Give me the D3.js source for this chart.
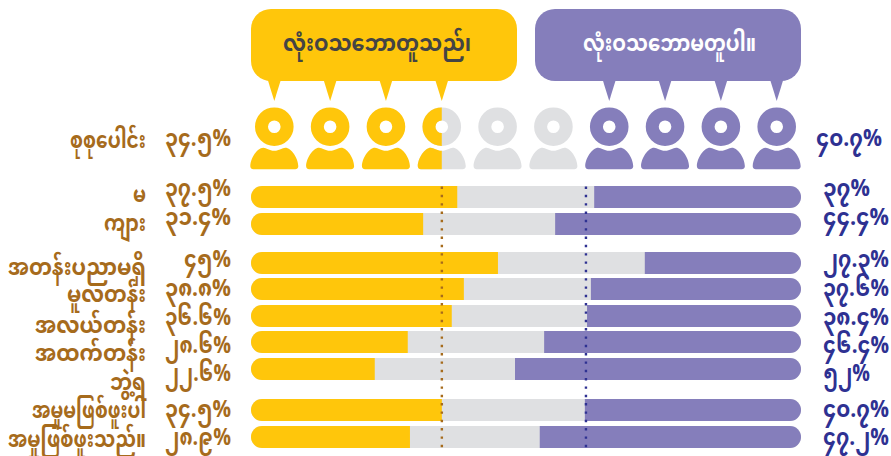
<!DOCTYPE html>
<html>
<head>
<meta charset="utf-8">
<script src="https://cdnjs.cloudflare.com/ajax/libs/d3/7.8.5/d3.min.js"></script>
<style>
html, body { margin: 0; padding: 0; background: #fff; }
text { font-family: "Noto Sans Myanmar", "Padauk", "Myanmar Text", "Noto Sans", "DejaVu Sans", sans-serif; font-weight: 700; }
</style>
</head>
<body>
<div id="chart"></div>
<script>
// values
const categories = ["မ", "ကျား", "အတန်းပညာမရှိ", "မူလတန်း", "အလယ်တန်း", "အထက်တန်း", "ဘွဲ့ရ", "အမှုမဖြစ်ဖူးပါ", "အမှုဖြစ်ဖူးသည်။"];
const yesShare = [37.5, 31.3, 44.9, 38.7, 36.5, 28.5, 22.5, 34.7, 28.9];
const noShare = [37.6, 44.7, 28.4, 38.2, 38.9, 46.7, 52, 39.3, 47.5];
const yesLabels = ["၃၇.၅%", "၃၁.၄%", "၄၅%", "၃၈.၈%", "၃၆.၆%", "၂၈.၆%", "၂၂.၆%", "၃၄.၅%", "၂၈.၉%"];
const noLabels = ["၃၇%", "၄၄.၄%", "၂၇.၃%", "၃၇.၆%", "၃၈.၄%", "၄၆.၄%", "၅၂%", "၄၀.၇%", "၄၇.၂%"];

const totalName = "စုစုပေါင်း";
const totalYes = 34.7;
const totalNo = 39.1;
const totalYesLabel = "၃၄.၅%";
const totalNoLabel = "၄၀.၇%";
const yesTitle = "လုံးဝသဘောတူသည်၊";
const noTitle = "လုံးဝသဘောမတူပါ။";
const people = d3.range(10);

const yellow = "#FFC60B", grey = "#DFE0E2", purple = "#857EBB";
const brown = "#A66B1C", navy = "#2E3192";

const width = 891, height = 456;
const svg = d3.select("#chart").append("svg")
    .attr("width", width)
    .attr("height", height)
    .style("display", "block");

const x = d3.scaleLinear().domain([0, 100]).range([251, 801]);
const iconX = d3.scalePoint().domain(people).range([274.3, 776.7]);

// row tops, the gaps mark the groups
const barY = d3.scaleOrdinal().domain(categories).range([186, 213, 252, 278, 305, 331, 358, 399, 426]);
const catY = d3.scaleOrdinal().domain(categories).range([202, 231, 275, 302, 333, 361, 390, 418, 447]);
const catW = d3.scaleOrdinal().domain(categories).range([13, 42, 138, 79, 111, 111, 36, 114, 138]);
const valY = d3.scaleOrdinal().domain(categories).range([196, 225, 267, 296, 325, 353, 381, 417, 445]);
const barH = 22;
const valW = s => s.length > 3 ? 66 : 47;

const defs = svg.append("defs");

// bars
categories.forEach(function (c, i) {
    const id = "bar" + i;
    defs.append("clipPath").attr("id", id).append("rect")
        .attr("x", x(0)).attr("y", barY(c))
        .attr("width", x(100) - x(0)).attr("height", barH)
        .attr("rx", barH / 2);
    const g = svg.append("g").attr("clip-path", "url(#" + id + ")");
    g.append("rect").attr("x", x(0)).attr("y", barY(c))
        .attr("width", x(100) - x(0)).attr("height", barH).attr("fill", grey);
    g.append("rect").attr("x", x(0)).attr("y", barY(c))
        .attr("width", x(yesShare[i]) - x(0)).attr("height", barH).attr("fill", yellow);
    g.append("rect").attr("x", x(100 - noShare[i])).attr("y", barY(c))
        .attr("width", x(100) - x(100 - noShare[i])).attr("height", barH).attr("fill", purple);
});

// dotted reference lines for the total
[[totalYes, brown], [100 - totalNo, navy]].forEach(function (d) {
    svg.append("line")
        .attr("x1", x(d[0])).attr("x2", x(d[0]))
        .attr("y1", 186.5).attr("y2", 448)
        .attr("stroke", d[1])
        .attr("stroke-width", 2.4)
        .attr("stroke-dasharray", "2.4 5.93");
});

// speech bubbles
const tail = d3.line();
function bubble(left, fill, members) {
    const g = svg.append("g").attr("fill", fill);
    g.append("rect").attr("x", left).attr("y", 9).attr("width", 266).attr("height", 72).attr("rx", 20);
    members.forEach(function (m) {
        const cx = iconX(m);
        g.append("path").attr("d", tail([[cx - 6.5, 80], [cx + 6.5, 80], [cx, 101]]) + "Z");
    });
}
bubble(251, yellow, [0, 1, 2, 3]);
bubble(535, purple, [6, 7, 8, 9]);

svg.append("text").attr("x", 283).attr("y", 51)
    .attr("textLength", 188).attr("lengthAdjust", "spacingAndGlyphs")
    .attr("font-size", 24).attr("fill", "#444").text(yesTitle);
svg.append("text").attr("x", 583).attr("y", 51)
    .attr("textLength", 173).attr("lengthAdjust", "spacingAndGlyphs")
    .attr("font-size", 24).attr("fill", "#fff").text(noTitle);

// people
const bodyPath = "M-24 17 C-24 9 -17 -1.6 -11 -1.6 C-8 -1.6 -5 1.5 0 1.5 C5 1.5 8 -1.6 11 -1.6 C17 -1.6 24 9 24 17 C24 19 22.5 20 21 20 L-21 20 C-22.5 20 -24 19 -24 17Z";
function person(g, cx, fill) {
    g.append("path")
        .attr("fill-rule", "evenodd")
        .attr("fill", fill)
        .attr("d", d3.arc()({ innerRadius: 6.3, outerRadius: 19.3, startAngle: 0, endAngle: 2 * Math.PI }))
        .attr("transform", "translate(" + cx + ",126.7)");
    g.append("path").attr("fill", fill).attr("d", bodyPath)
        .attr("transform", "translate(" + cx + ",149.3)");
}
const iconColor = d3.scaleThreshold().domain([3.5, 5.5]).range([yellow, grey, purple]);
people.forEach(function (p) {
    person(svg, iconX(p), p === 3 ? grey : iconColor(p));
});
defs.append("clipPath").attr("id", "halfIcon").append("rect")
    .attr("x", iconX(3) - 30).attr("y", 100).attr("width", 30).attr("height", 75);
person(svg.append("g").attr("clip-path", "url(#halfIcon)"), iconX(3), yellow);

// row labels
svg.selectAll(".cat").data(categories).join("text")
    .attr("class", "cat")
    .attr("x", d => 146 - catW(d)).attr("y", d => catY(d))
    .attr("textLength", d => catW(d)).attr("lengthAdjust", "spacingAndGlyphs")
    .attr("font-size", 23).attr("fill", brown).text(d => d);
svg.selectAll(".yes").data(yesLabels).join("text")
    .attr("class", "yes")
    .attr("x", d => 231 - valW(d)).attr("y", (d, i) => valY(categories[i]))
    .attr("textLength", d => valW(d)).attr("lengthAdjust", "spacingAndGlyphs")
    .attr("font-size", 24).attr("fill", brown).text(d => d);
svg.selectAll(".no").data(noLabels).join("text")
    .attr("class", "no")
    .attr("x", 823).attr("y", (d, i) => valY(categories[i]))
    .attr("textLength", d => valW(d)).attr("lengthAdjust", "spacingAndGlyphs")
    .attr("font-size", 24).attr("fill", navy).text(d => d);

// total row
svg.append("text").attr("x", 70).attr("y", 148)
    .attr("textLength", 76).attr("lengthAdjust", "spacingAndGlyphs")
    .attr("font-size", 23).attr("fill", brown).text(totalName);
svg.append("text").attr("x", 165).attr("y", 146)
    .attr("textLength", 66).attr("lengthAdjust", "spacingAndGlyphs")
    .attr("font-size", 24).attr("fill", brown).text(totalYesLabel);
svg.append("text").attr("x", 816).attr("y", 146)
    .attr("textLength", 66).attr("lengthAdjust", "spacingAndGlyphs")
    .attr("font-size", 24).attr("fill", navy).text(totalNoLabel);
</script>
</body>
</html>
